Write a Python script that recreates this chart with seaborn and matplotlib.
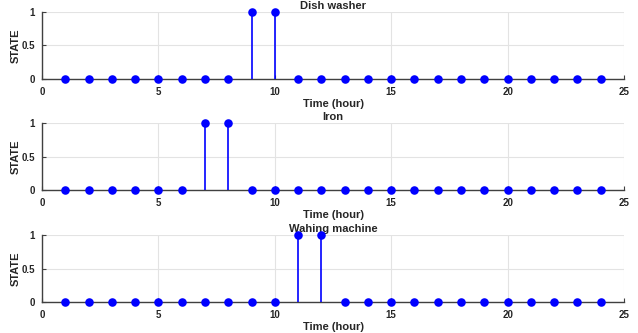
import numpy as np
import pandas as pd
import matplotlib
matplotlib.use('Agg')
import matplotlib.pyplot as plt
import seaborn as sns

hours = list(range(1, 25))
dish_washer = [0]*8 + [1, 1] + [0]*14
iron = [0]*6 + [1, 1] + [0]*16
washing_machine = [0]*10 + [1, 1] + [0]*12
titles = ['Dish washer', 'Iron', 'Wahing machine']

sns.set_style('whitegrid')
plt.rcParams['font.family'] = ['Liberation Sans', 'DejaVu Sans']
plt.rcParams['font.weight'] = 'bold'

fig = plt.figure(figsize=(6.38, 3.33), dpi=100)
positions = [[0.066, 0.763, 0.912, 0.201],
             [0.066, 0.429, 0.912, 0.202],
             [0.066, 0.093, 0.912, 0.201]]

for pos, states, title in zip(positions, [dish_washer, iron, washing_machine], titles):
    ax = fig.add_axes(pos)
    df = pd.DataFrame({'hour': hours, 'state': states})
    ax.vlines(df['hour'], 0, df['state'], color='#0000ff', lw=1.2, zorder=3)
    sns.scatterplot(data=df, x='hour', y='state', ax=ax, color='#0000ff',
                    s=38, edgecolor='#0000ff', linewidth=0, zorder=4, clip_on=False)
    ax.set_xlim(0, 25)
    ax.set_ylim(0, 1)
    ax.set_xticks([0, 5, 10, 15, 20, 25])
    ax.set_yticks([0, 0.5, 1])
    ax.set_yticklabels(['0', '0.5', '1'])
    ax.grid(True, color='#e3e3e3', lw=0.8)
    for s in ['top', 'right']:
        ax.spines[s].set_visible(False)
    for s in ['left', 'bottom']:
        ax.spines[s].set_visible(True)
        ax.spines[s].set_color('#404040')
        ax.spines[s].set_linewidth(1.0)
    ax.tick_params(axis='both', direction='in', length=3, color='#404040',
                   labelsize=7, left=True, bottom=True)
    ax.tick_params(axis='x', pad=6)
    ax.tick_params(axis='y', pad=5)
    for lab in ax.get_xticklabels() + ax.get_yticklabels():
        lab.set_fontweight('bold')
    ax.set_xlabel('Time (hour)', fontsize=8, fontweight='bold', labelpad=1)
    ax.set_ylabel('STATE', fontsize=8, fontweight='bold', labelpad=1)
    ax.set_title(title, fontsize=8, fontweight='bold', pad=2)

fig.savefig('out.png', dpi=100)
